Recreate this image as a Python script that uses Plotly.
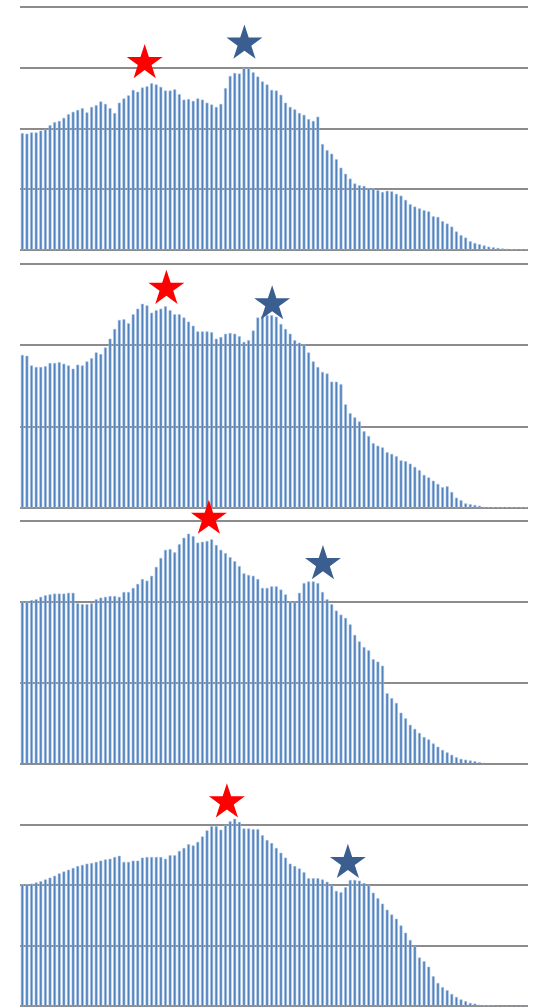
import plotly.graph_objects as go

ages = list(range(110))

panel1 = [1.92, 1.91, 1.93, 1.93, 1.96, 1.98, 2.05, 2.10, 2.12, 2.17,
          2.23, 2.27, 2.30, 2.33, 2.26, 2.35, 2.38, 2.44, 2.40, 2.33,
          2.25, 2.42, 2.49, 2.54, 2.63, 2.60, 2.67, 2.69, 2.74, 2.72,
          2.68, 2.62, 2.62, 2.64, 2.56, 2.47, 2.48, 2.45, 2.49, 2.47,
          2.42, 2.39, 2.35, 2.40, 2.66, 2.86, 2.91, 2.90, 2.99, 2.99,
          2.92, 2.85, 2.77, 2.72, 2.63, 2.62, 2.55, 2.42, 2.35, 2.31,
          2.25, 2.22, 2.15, 2.12, 2.19, 1.74, 1.64, 1.58, 1.49, 1.35,
          1.25, 1.17, 1.09, 1.06, 1.05, 1.01, 1.01, 0.98, 0.95, 0.97,
          0.96, 0.92, 0.89, 0.82, 0.75, 0.71, 0.68, 0.65, 0.63, 0.55,
          0.54, 0.47, 0.43, 0.38, 0.30, 0.24, 0.20, 0.14, 0.11, 0.09,
          0.07, 0.05, 0.04, 0.03, 0.02, 0.015, 0.008, 0.005, 0.003, 0.002]

panel2 = [1.88, 1.87, 1.75, 1.73, 1.73, 1.74, 1.78, 1.78, 1.79, 1.77,
          1.75, 1.71, 1.76, 1.75, 1.80, 1.84, 1.91, 1.89, 1.97, 2.08,
          2.20, 2.31, 2.32, 2.27, 2.38, 2.45, 2.51, 2.49, 2.40, 2.43,
          2.45, 2.48, 2.43, 2.38, 2.38, 2.34, 2.29, 2.24, 2.17, 2.17,
          2.17, 2.16, 2.08, 2.10, 2.14, 2.15, 2.14, 2.11, 2.04, 2.06,
          2.18, 2.34, 2.36, 2.37, 2.37, 2.35, 2.26, 2.20, 2.14, 2.06,
          2.03, 2.01, 1.91, 1.80, 1.73, 1.67, 1.65, 1.55, 1.55, 1.52,
          1.27, 1.16, 1.11, 1.06, 0.94, 0.88, 0.79, 0.76, 0.74, 0.68,
          0.66, 0.63, 0.58, 0.57, 0.54, 0.50, 0.46, 0.40, 0.37, 0.33,
          0.29, 0.25, 0.26, 0.19, 0.12, 0.09, 0.05, 0.04, 0.03, 0.02,
          0.005, 0, 0, 0, 0, 0, 0, 0, 0, 0]

panel3 = [2.00, 2.00, 2.02, 2.03, 2.06, 2.08, 2.09, 2.10, 2.10, 2.10,
          2.11, 2.11, 1.98, 1.97, 1.97, 1.98, 2.03, 2.05, 2.06, 2.07,
          2.07, 2.06, 2.12, 2.12, 2.17, 2.22, 2.28, 2.26, 2.32, 2.43,
          2.54, 2.64, 2.65, 2.61, 2.71, 2.79, 2.84, 2.81, 2.73, 2.74,
          2.75, 2.77, 2.70, 2.64, 2.60, 2.55, 2.50, 2.44, 2.35, 2.33,
          2.32, 2.28, 2.17, 2.17, 2.19, 2.19, 2.15, 2.09, 2.00, 2.00,
          2.11, 2.23, 2.25, 2.25, 2.23, 2.12, 2.03, 1.97, 1.89, 1.84,
          1.80, 1.72, 1.59, 1.51, 1.44, 1.40, 1.29, 1.26, 1.21, 0.87,
          0.81, 0.75, 0.63, 0.56, 0.48, 0.43, 0.38, 0.33, 0.30, 0.25,
          0.21, 0.17, 0.14, 0.11, 0.08, 0.06, 0.05, 0.04, 0.03, 0.02,
          0.01, 0.005, 0, 0, 0, 0, 0, 0, 0, 0]

panel4 = [2.01, 2.01, 2.02, 2.04, 2.06, 2.09, 2.12, 2.15, 2.19, 2.22,
          2.25, 2.28, 2.31, 2.33, 2.35, 2.36, 2.38, 2.40, 2.42, 2.43,
          2.46, 2.48, 2.38, 2.38, 2.40, 2.40, 2.45, 2.46, 2.46, 2.46,
          2.46, 2.43, 2.49, 2.49, 2.56, 2.61, 2.67, 2.65, 2.71, 2.80,
          2.90, 2.97, 2.97, 2.91, 2.99, 3.05, 3.09, 3.04, 2.93, 2.93,
          2.92, 2.92, 2.82, 2.74, 2.69, 2.61, 2.53, 2.45, 2.35, 2.31,
          2.27, 2.21, 2.11, 2.11, 2.11, 2.09, 2.05, 1.99, 1.90, 1.88,
          1.96, 2.08, 2.08, 2.07, 2.03, 1.99, 1.87, 1.78, 1.69, 1.59,
          1.51, 1.44, 1.33, 1.21, 1.09, 0.99, 0.80, 0.74, 0.65, 0.49,
          0.38, 0.31, 0.26, 0.20, 0.15, 0.11, 0.08, 0.05, 0.04, 0.02,
          0.015, 0.01, 0.005, 0, 0, 0, 0, 0, 0, 0]

panels = [panel1, panel2, panel3, panel4]
y_max = [4, 3, 3, 4]

# star markers (age position, value) per panel
red_star_x = [26.5, 31.2, 40.4, 44.3]
red_star_y = [3.08, 2.70, 3.03, 3.37]
blue_star_x = [48.1, 54.1, 65.1, 70.5]
blue_star_y = [3.40, 2.51, 2.47, 2.37]

H = 1007.0
# pixel rows (top gridline, baseline) of each panel
panel_px = [(7, 250), (264.3, 507.7), (521, 764), (764, 1006.3)]
pads = [4.0, 4.0, 8.0, 2.0]  # extra px above the top gridline

bar_color = "#4F81BD"
grid_color = "#8C8C8C"

fig = go.Figure()
layout = dict(
    width=537, height=1007,
    margin=dict(l=0, r=0, t=0, b=0, pad=0),
    paper_bgcolor="white", plot_bgcolor="rgba(0,0,0,0)",
    showlegend=False,
)

for i, vals in enumerate(panels):
    n = "" if i == 0 else str(i + 1)
    xa, ya = "x" + n, "y" + n
    fig.add_trace(go.Bar(x=ages, y=vals, xaxis=xa, yaxis=ya, width=0.5,
                         marker=dict(color=bar_color, line=dict(width=0.6, color="#A9C2E2"))))
    fig.add_trace(go.Scatter(x=[red_star_x[i]], y=[red_star_y[i]], xaxis=xa, yaxis=ya,
                             mode="markers", cliponaxis=False,
                             marker=dict(symbol="star", size=27, color="#FF0000",
                                         line=dict(width=0))))
    fig.add_trace(go.Scatter(x=[blue_star_x[i]], y=[blue_star_y[i]], xaxis=xa, yaxis=ya,
                             mode="markers", cliponaxis=False,
                             marker=dict(symbol="star", size=27, color="#3A5E8F",
                                         line=dict(width=0))))
    top, bot = panel_px[i]
    unit = (bot - top) / y_max[i]
    top_ext = top - pads[i]
    layout["xaxis" + n] = dict(domain=[20 / 537, 528 / 537], range=[-0.5, 109.5],
                               showgrid=False, zeroline=False, showticklabels=False,
                               ticks="", showline=False, anchor=ya, fixedrange=True)
    layout["yaxis" + n] = dict(domain=[1 - bot / H, 1 - top_ext / H],
                               range=[0, y_max[i] + pads[i] / unit],
                               tick0=0, dtick=1, showgrid=True, gridcolor=grid_color,
                               gridwidth=1.6, zeroline=True, zerolinecolor=grid_color,
                               zerolinewidth=1.6, showticklabels=False, ticks="",
                               showline=False, anchor=xa, fixedrange=True)

fig.update_layout(**layout)
fig.write_html("out.html",
               config={"displayModeBar": False},
               post_script="document.body.style.margin='0';document.body.style.padding='0';")
